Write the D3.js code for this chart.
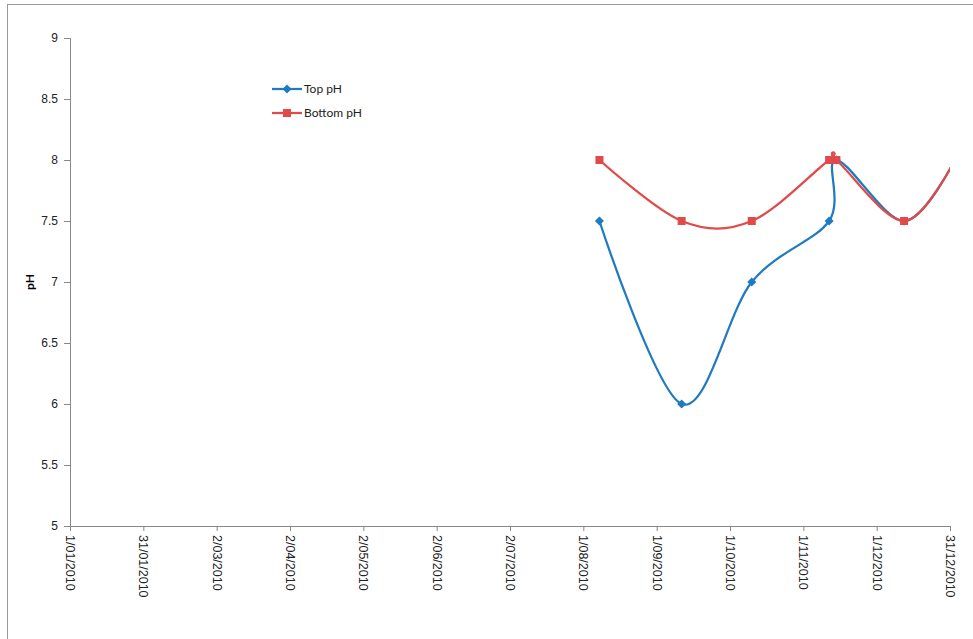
<!DOCTYPE html>
<html><head><meta charset="utf-8">
<script src="https://cdn.jsdelivr.net/npm/d3@7"></script>
<style>body{margin:0;background:#fff;} svg{display:block;font-family:Lato,"Open Sans",sans-serif;}</style>
</head><body>
<svg id="c" width="973" height="639"></svg>
<script>
// ---- data ----
const tickLabels = ["1/01/2010","31/01/2010","2/03/2010","2/04/2010","2/05/2010","2/06/2010","2/07/2010","1/08/2010","1/09/2010","1/10/2010","1/11/2010","1/12/2010","31/12/2010"];
const yTicks = [5,5.5,6,6.5,7,7.5,8,8.5,9];
const topDates = ["2010-08-08","2010-09-11","2010-10-10","2010-11-11","2010-11-14","2010-12-12","2011-01-02"];
const topValues = [7.5,6.0,7.0,7.5,8.0,7.5,8.0];
const bottomDates = ["2010-08-08","2010-09-11","2010-10-10","2010-11-11","2010-11-14","2010-12-12","2011-01-02"];
const bottomValues = [8.0,7.5,7.5,8.0,8.0,7.5,8.0];
const seriesNames = ["Top pH","Bottom pH"];
const colors = ["#1f7bc0","#e04a4a"];

const svg = d3.select("#c");
const W = 973, H = 639;
const m = {left:70, right:23, top:38, bottom:113};
// chart frame
svg.append("rect").attr("x",7.5).attr("y",4.5).attr("width",W+10).attr("height",H+10)
  .attr("fill","none").attr("stroke","#999").attr("stroke-width",1);

const parse = d3.utcParse("%Y-%m-%d");
const x = d3.scaleUtc().domain([parse("2010-01-01"), parse("2010-12-31")]).range([m.left, W - m.right]);
const y = d3.scaleLinear().domain([5,9]).range([H - m.bottom, m.top]);

const t0 = x.domain()[0].getTime(), t1 = x.domain()[1].getTime();
const tickDates = tickLabels.map((d,i)=> new Date(t0 + (t1-t0)*i/(tickLabels.length-1)));

// y axis
const yAxis = svg.append("g").attr("transform",`translate(${m.left},0)`)
  .call(d3.axisLeft(y).tickValues(yTicks).tickSize(6).tickPadding(6).tickFormat(d=>d3.format("")(d)));
yAxis.select(".domain").attr("stroke","#888");
yAxis.selectAll(".tick line").attr("stroke","#888");
yAxis.selectAll("text").attr("font-size","12px").attr("fill","#222");

// x axis
const xAxis = svg.append("g").attr("transform",`translate(0,${H - m.bottom})`)
  .call(d3.axisBottom(x).tickValues(tickDates).tickSize(5).tickFormat((d,i)=>tickLabels[i]));
xAxis.select(".domain").attr("stroke","#888");
xAxis.selectAll(".tick line").attr("stroke","#888");
xAxis.selectAll("text").attr("font-size","12.5px").attr("fill","#222")
  .attr("transform","rotate(90)").attr("text-anchor","start").attr("dy","0.35em").attr("x",9).attr("y",0);

// y title
svg.append("text").attr("transform",`translate(30,${(m.top + H - m.bottom)/2}) rotate(-90)`)
  .attr("text-anchor","middle").attr("dy","0.35em").attr("font-size","12px").attr("font-weight","bold").text("pH");

// clip
svg.append("clipPath").attr("id","clip").append("rect")
  .attr("x",m.left).attr("y",m.top-10).attr("width",W-m.right-m.left).attr("height",H-m.bottom-m.top+20);

const series = [
  {name:seriesNames[0], color:colors[0], pts: topDates.map((d,i)=>({d:parse(d), v:topValues[i]})), shape:"diamond"},
  {name:seriesNames[1], color:colors[1], pts: bottomDates.map((d,i)=>({d:parse(d), v:bottomValues[i]})), shape:"square"}
];
const line = d3.line().x(p=>x(p.d)).y(p=>y(p.v)).curve(d3.curveCatmullRom.alpha(0));
const g = svg.append("g").attr("clip-path","url(#clip)");
function marker(sel, shape, color, cx, cy){
  if(shape==="square"){
    sel.append("rect").attr("x",cx-4).attr("y",cy-4).attr("width",8).attr("height",8).attr("fill",color);
  } else {
    sel.append("path").attr("d",`M${cx},${cy-4.5}L${cx+4.5},${cy}L${cx},${cy+4.5}L${cx-4.5},${cy}Z`).attr("fill",color);
  }
}
series.forEach(s=>{
  g.append("path").attr("d",line(s.pts)).attr("fill","none").attr("stroke",s.color).attr("stroke-width",2.25);
});
series.forEach(s=>{
  s.pts.filter(p=>p.d<=x.domain()[1]).forEach(p=>marker(g,s.shape,s.color,x(p.d),y(p.v)));
});

// legend
const lg = svg.append("g");
series.forEach((s,i)=>{
  const ly = 89 + i*24;
  lg.append("line").attr("x1",272).attr("x2",302).attr("y1",ly).attr("y2",ly).attr("stroke",s.color).attr("stroke-width",2.25);
  marker(lg,s.shape,s.color,287,ly);
  lg.append("text").attr("x",304).attr("y",ly).attr("dy","0.35em").attr("font-size","12px").attr("fill","#222").text(s.name);
});
</script>
</body></html>
